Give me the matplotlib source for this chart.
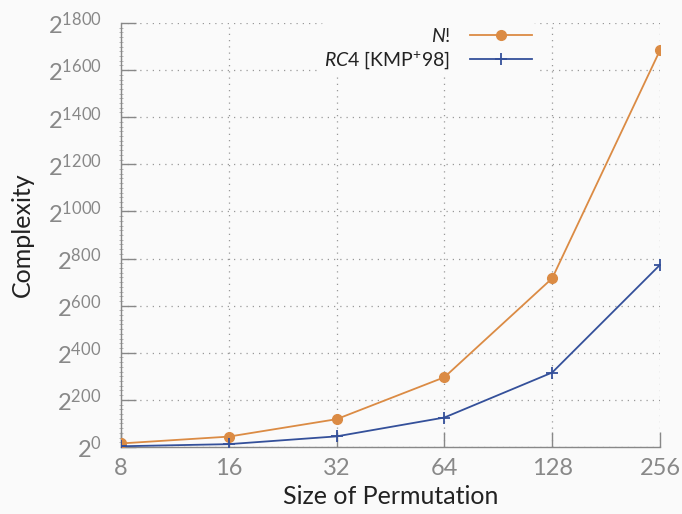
import matplotlib
matplotlib.use("Agg")
from matplotlib import pyplot as plt
from matplotlib.ticker import FixedLocator, MultipleLocator

perm_sizes = [8, 16, 32, 64, 128, 256]
# exponents of 2
factorial_log2 = [15, 44, 118, 296, 716, 1684]
rc4_log2 = [3, 12, 45, 125, 316, 773]
y_ticks = [0, 200, 400, 600, 800, 1000, 1200, 1400, 1600, 1800]

FONT = "Lato"
plt.rcParams["font.family"] = [FONT, "DejaVu Sans"]
plt.rcParams["mathtext.fontset"] = "custom"
plt.rcParams["mathtext.rm"] = FONT
plt.rcParams["mathtext.it"] = FONT + ":italic"
plt.rcParams["mathtext.bf"] = FONT + ":bold"

bg = "#fafafa"
orange = "#db8b44"
blue = "#34509a"
gray = "#888888"

fig = plt.figure(figsize=(6.82, 5.14), dpi=100, facecolor=bg)
ax = fig.add_axes([0.1774, 0.1304, 0.7903, 0.8249], facecolor=bg)

ax.plot(perm_sizes, factorial_log2, color=orange, lw=1.3, marker="o", ms=7,
        label=r"$N$!", zorder=3)
ax.plot(perm_sizes, rc4_log2, color=blue, lw=1.3, marker="+", ms=8, mew=1.3,
        label=r"$RC$4 [KMP$^{+}$98]", zorder=3)

ax.set_xscale("log", base=2)
ax.set_xlim(8, 256)
ax.set_ylim(0, 1800)
ax.xaxis.set_major_locator(FixedLocator(perm_sizes))
ax.xaxis.set_minor_locator(FixedLocator([]))
ax.set_xticklabels([str(v) for v in perm_sizes])
ax.yaxis.set_major_locator(FixedLocator(y_ticks))
ax.yaxis.set_minor_locator(MultipleLocator(20))
ax.set_yticklabels([r"$2^{%d}$" % v for v in y_ticks])

ax.tick_params(axis="both", which="major", direction="in", length=11,
               width=1.0, color=gray, labelcolor=gray, labelsize=17)
ax.tick_params(axis="y", which="major", pad=14)
ax.tick_params(axis="x", which="major", pad=8)
ax.tick_params(axis="y", which="minor", direction="inout", length=2.5,
               width=0.6, color="#aaaaaa")

for side in ["top", "right"]:
    ax.spines[side].set_visible(False)
for side in ["left", "bottom"]:
    ax.spines[side].set_color(gray)
    ax.spines[side].set_linewidth(1.0)

ax.grid(True, which="major", linestyle=(0, (1, 4)), color="#999999", lw=0.9)
ax.set_axisbelow(True)

ax.set_xlabel("Size of Permutation", fontsize=18, color="#222222", labelpad=4)
ax.set_ylabel("Complexity", fontsize=18, color="#222222", labelpad=10)

leg = ax.legend(loc="upper right", bbox_to_anchor=(0.77, 1.0), markerfirst=False,
                frameon=True, fontsize=14, handlelength=3.2, handletextpad=1.0,
                labelspacing=0.2, borderpad=0.2, borderaxespad=0.0)
leg.get_frame().set_facecolor(bg)
leg.get_frame().set_edgecolor(bg)
leg.get_frame().set_alpha(1.0)
for t in leg.get_texts():
    t.set_color("#222222")

fig.savefig("out.png", dpi=100, facecolor=bg)
